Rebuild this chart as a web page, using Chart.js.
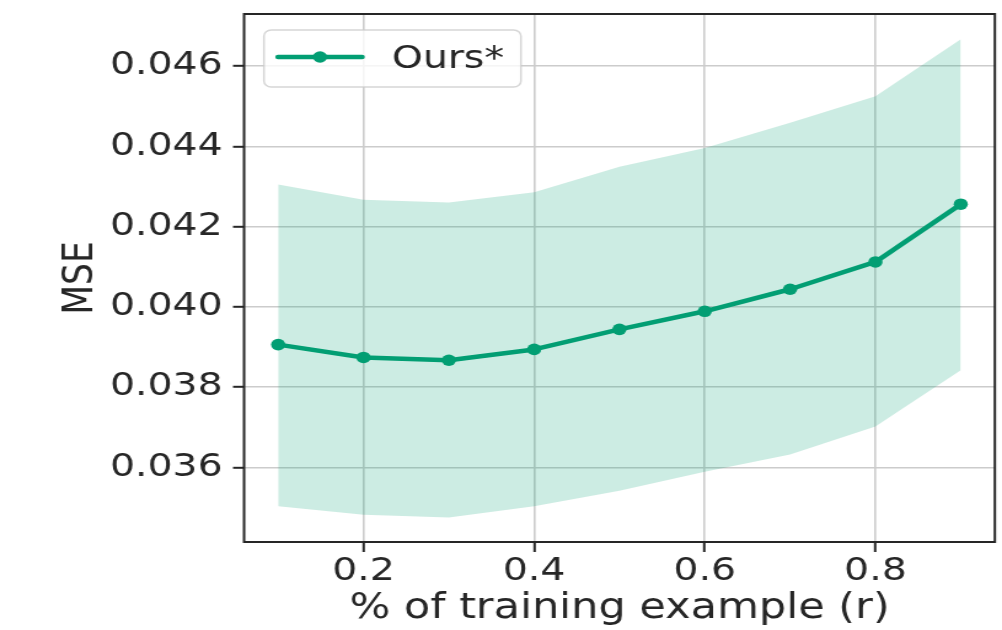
<!DOCTYPE html>
<html>
<head>
<meta charset="utf-8">
<title>MSE vs % of training example</title>
<script src="https://cdn.jsdelivr.net/npm/chart.js@4.4.1/dist/chart.umd.min.js"></script>
<style>
  html, body { margin: 0; padding: 0; background: #ffffff; }
  #chart { display: block; width: 1002px; height: 630px; }
</style>
</head>
<body>
<!-- drawn on a narrower backing canvas and widened by CSS for the wide-aspect look -->
<canvas id="chart" width="815" height="630" style="width:1002px;height:630px;display:block"></canvas>
<script>
// fraction of training examples used (r)
const ratios = [0.1, 0.2, 0.3, 0.4, 0.5, 0.6, 0.7, 0.8, 0.9];
// mean MSE of "Ours*"
const mseMean = [0.03906, 0.03874, 0.03867, 0.03894, 0.03944, 0.03989, 0.04044, 0.04112, 0.04256];
// upper and lower edge of the shaded spread
const mseUpper = [0.04305, 0.04267, 0.04260, 0.04286, 0.04349, 0.04396, 0.04459, 0.04525, 0.04667];
const mseLower = [0.03503, 0.03482, 0.03475, 0.03503, 0.03542, 0.03589, 0.03632, 0.03702, 0.03842];
// axis ticks
const xTickValues = [0.2, 0.4, 0.6, 0.8];
const yTickValues = [0.036, 0.038, 0.040, 0.042, 0.044, 0.046];

const seriesName = 'Ours*';
const green = '#029e73';
const bandColor = 'rgba(2, 158, 115, 0.2)';
const inkColor = '#262626';
const gridColor = '#cccccc';
const fontFamily = "'DejaVu Sans', 'Liberation Sans', sans-serif";

const toPoints = (ys) => ratios.map((x, i) => ({ x: x, y: ys[i] }));

// box around the plot area, like the axes spines
const framePlugin = {
  id: 'frame',
  afterDraw(chart) {
    const { ctx, chartArea: a } = chart;
    ctx.save();
    ctx.strokeStyle = inkColor;
    ctx.lineWidth = 2;
    ctx.strokeRect(a.left, a.top, a.right - a.left, a.bottom - a.top);
    ctx.restore();
  }
};

// legend box placed inside the plot area, upper left
const innerLegendPlugin = {
  id: 'innerLegend',
  afterDraw(chart) {
    const { ctx } = chart;
    const ds = chart.data.datasets[0];
    const bx = 214.7, by = 30, bw = 209, bh = 57, r = 6;
    ctx.save();
    ctx.beginPath();
    ctx.moveTo(bx + r, by);
    ctx.arcTo(bx + bw, by, bx + bw, by + bh, r);
    ctx.arcTo(bx + bw, by + bh, bx, by + bh, r);
    ctx.arcTo(bx, by + bh, bx, by, r);
    ctx.arcTo(bx, by, bx + bw, by, r);
    ctx.closePath();
    ctx.fillStyle = 'rgba(255,255,255,0.8)';
    ctx.fill();
    ctx.strokeStyle = 'rgba(204,204,204,0.8)';
    ctx.lineWidth = 1.5;
    ctx.stroke();

    const ly = 57;
    ctx.beginPath();
    ctx.moveTo(226.1, ly);
    ctx.lineTo(294.5, ly);
    ctx.strokeStyle = ds.borderColor;
    ctx.lineWidth = ds.borderWidth;
    ctx.lineCap = 'round';
    ctx.stroke();
    ctx.beginPath();
    ctx.arc(260.3, ly, ds.pointRadius, 0, Math.PI * 2);
    ctx.fillStyle = ds.pointBackgroundColor;
    ctx.fill();

    ctx.fillStyle = inkColor;
    ctx.font = '32px ' + fontFamily;
    ctx.textBaseline = 'middle';
    ctx.textAlign = 'left';
    ctx.fillText(ds.label, 318.7, 59.5);
    ctx.restore();
  }
};

new Chart(document.getElementById('chart'), {
  type: 'line',
  data: {
    datasets: [
      {
        label: seriesName,
        data: toPoints(mseMean),
        borderColor: green,
        backgroundColor: green,
        borderWidth: 4.5,
        pointRadius: 5.8,
        pointBackgroundColor: green,
        pointBorderWidth: 0,
        tension: 0,
        fill: false,
        order: 0,
        borderCapStyle: 'round',
        borderJoinStyle: 'round'
      },
      {
        label: 'upper',
        data: toPoints(mseUpper),
        borderWidth: 0,
        borderColor: 'rgba(0,0,0,0)',
        pointRadius: 0,
        backgroundColor: bandColor,
        fill: '+1',
        tension: 0,
        order: 1
      },
      {
        label: 'lower',
        data: toPoints(mseLower),
        borderWidth: 0,
        borderColor: 'rgba(0,0,0,0)',
        pointRadius: 0,
        fill: false,
        tension: 0,
        order: 1
      }
    ]
  },
  options: {
    responsive: false,
    animation: false,
    devicePixelRatio: 1,
    events: [],
    layout: { padding: { top: 14, right: 5, bottom: 0, left: 0 } },
    plugins: {
      legend: { display: false },
      tooltip: { enabled: false }
    },
    scales: {
      x: {
        type: 'linear',
        min: 0.06,
        max: 0.94,
        afterBuildTicks: (s) => { s.ticks = xTickValues.map(v => ({ value: v })); },
        afterFit: (s) => { s.height = 88; s.paddingLeft = 0; s.paddingRight = 0; },
        border: { display: false },
        grid: {
          color: gridColor,
          lineWidth: 1.6,
          drawTicks: true,
          tickLength: 10,
          tickColor: inkColor,
          tickWidth: 2
        },
        ticks: {
          color: inkColor,
          font: { family: fontFamily, size: 32, lineHeight: 1 },
          padding: 4,
          maxRotation: 0,
          callback: (v) => Number(v).toFixed(1)
        },
        title: {
          display: true,
          text: '% of training example (r)',
          color: inkColor,
          font: { family: fontFamily, size: 35, lineHeight: 1.2 },
          padding: { top: 0, bottom: 0 }
        }
      },
      y: {
        type: 'linear',
        min: 0.03414,
        max: 0.04730,
        afterBuildTicks: (s) => { s.ticks = yTickValues.map(v => ({ value: v })); },
        afterFit: (s) => { s.width = 198.5; s.paddingTop = 0; s.paddingBottom = 0; },
        border: { display: false },
        grid: {
          color: gridColor,
          lineWidth: 1.6,
          drawTicks: true,
          tickLength: 9,
          tickColor: inkColor,
          tickWidth: 2
        },
        ticks: {
          color: inkColor,
          font: { family: fontFamily, size: 32, lineHeight: 1 },
          padding: 8.5,
          callback: (v) => Number(v).toFixed(3)
        },
        title: {
          display: true,
          text: 'MSE',
          color: inkColor,
          font: { family: fontFamily, size: 34.5, lineHeight: 1.2 },
          padding: { top: 45, bottom: 0 }
        }
      }
    }
  },
  plugins: [framePlugin, innerLegendPlugin]
});
</script>
</body>
</html>
